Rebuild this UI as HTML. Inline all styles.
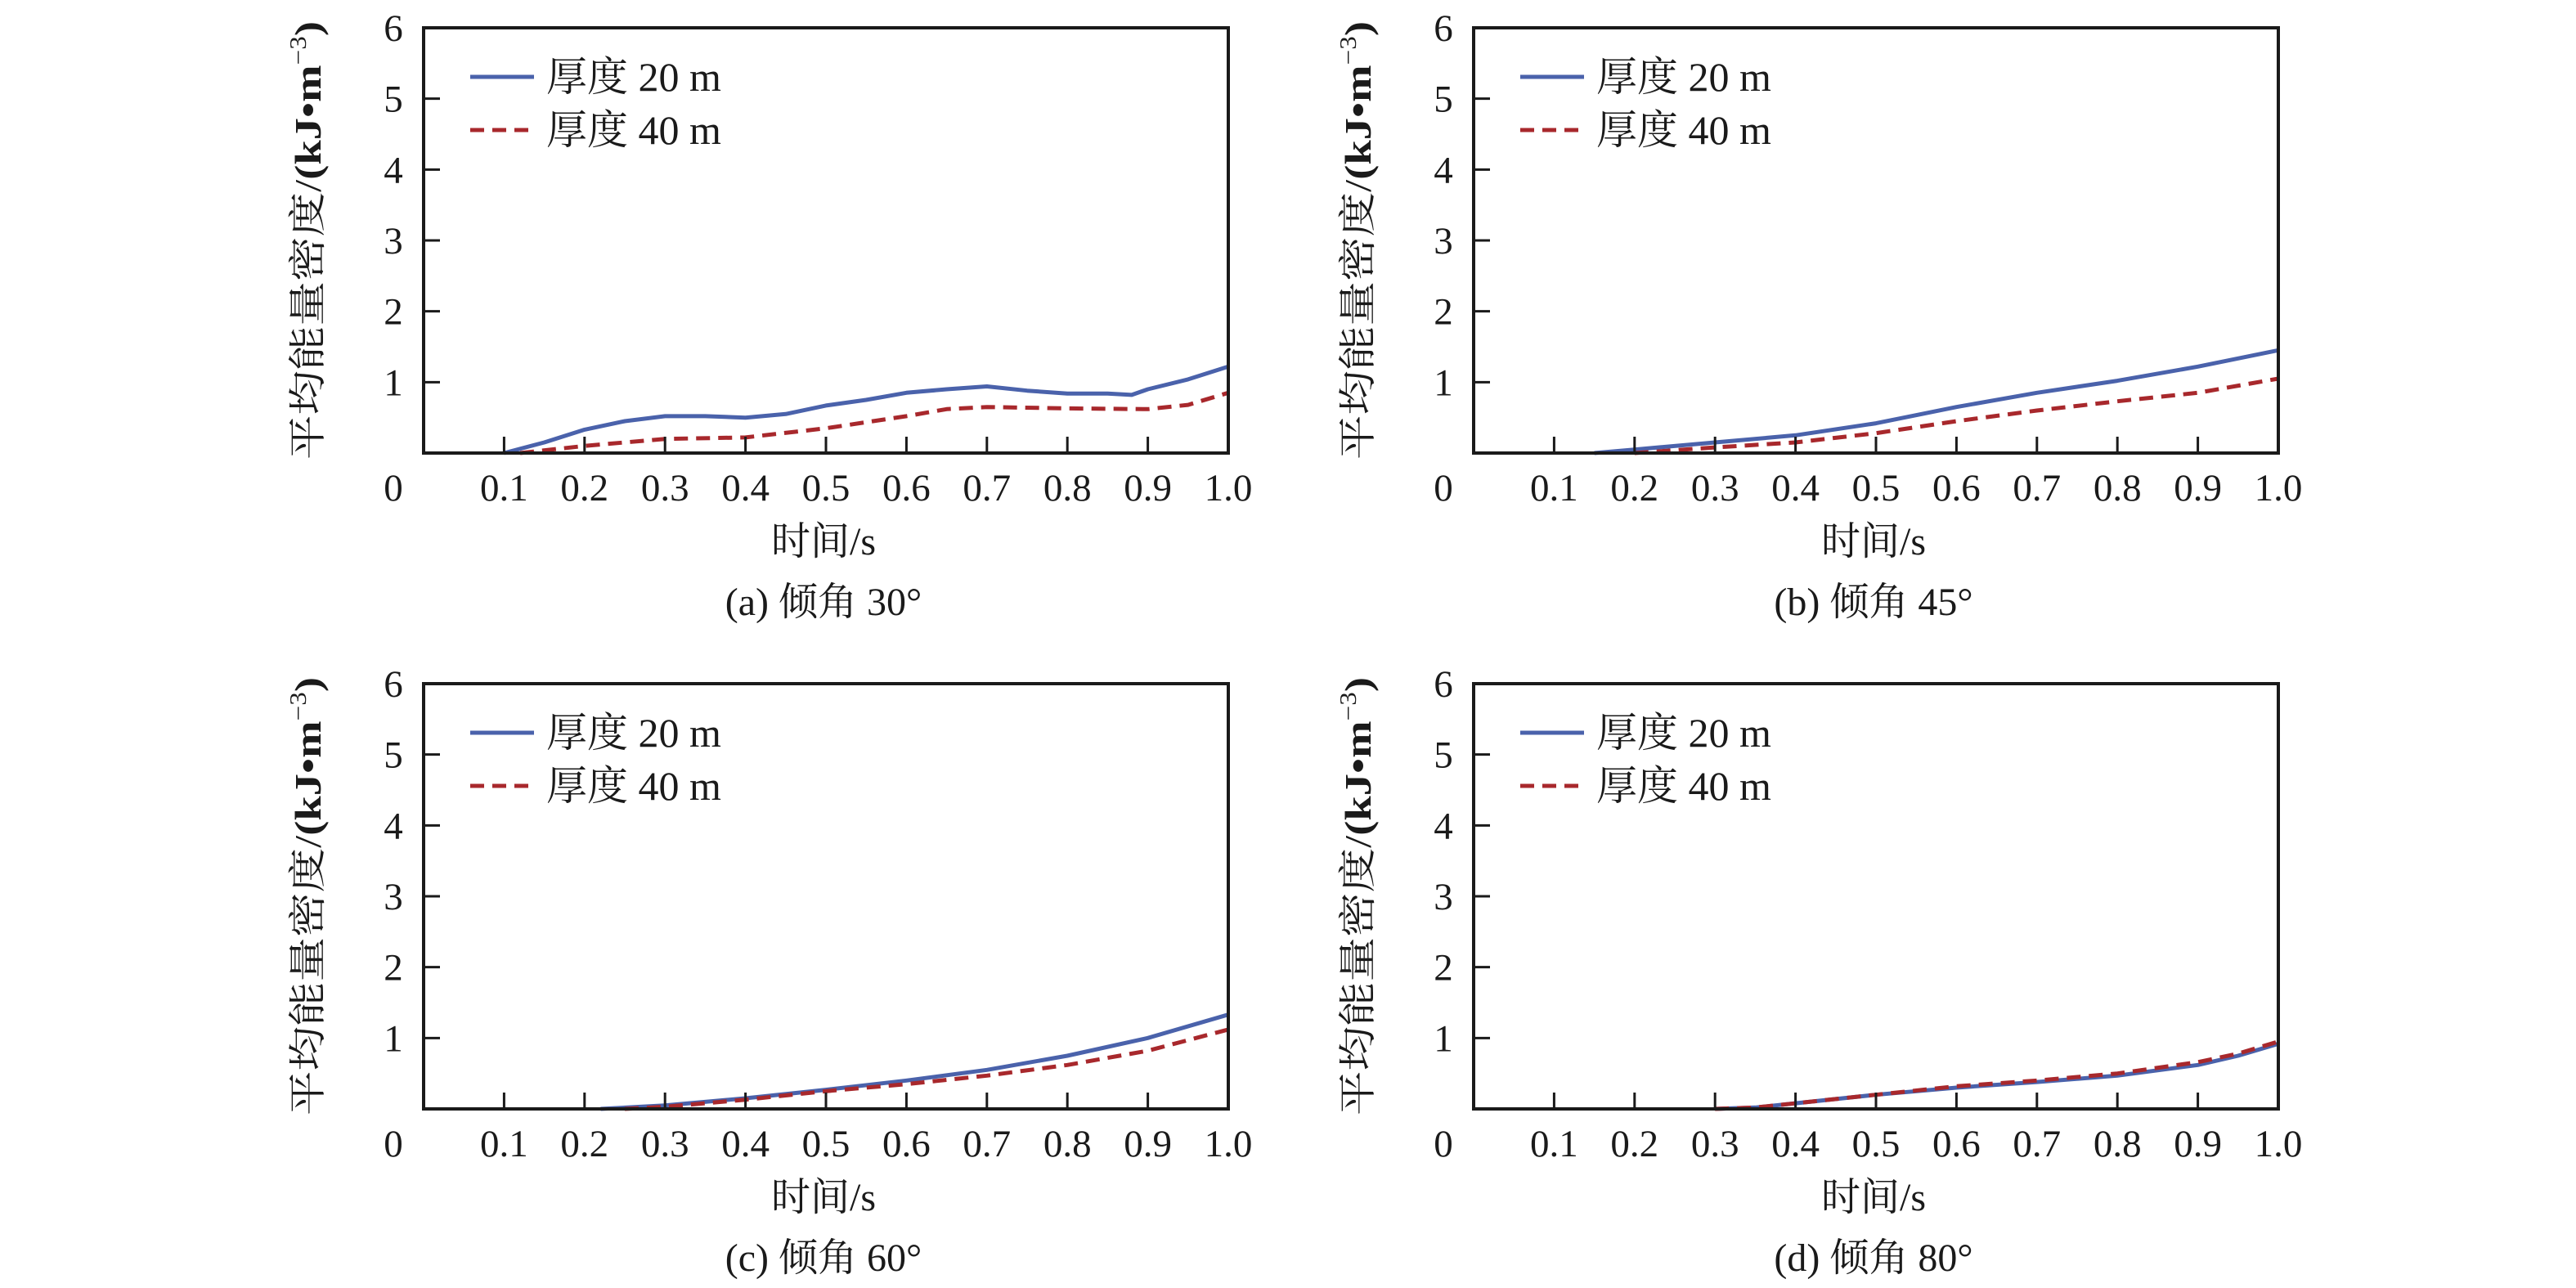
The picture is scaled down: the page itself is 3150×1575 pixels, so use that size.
<!DOCTYPE html>
<html><head><meta charset="utf-8"><style>
html,body{margin:0;padding:0;background:#fff}
svg{display:block}
text{font-family:"Liberation Serif","Noto Serif CJK SC","Noto Sans CJK SC",serif;fill:#1a1a1a}
</style></head><body>
<svg id="fig" width="3150" height="1575" viewBox="0 0 3150 1575" xmlns="http://www.w3.org/2000/svg"></svg>
<script>
const xTicks=[0.1,0.2,0.3,0.4,0.5,0.6,0.7,0.8,0.9];
const xTickLabels=["0.1","0.2","0.3","0.4","0.5","0.6","0.7","0.8","0.9","1.0"];
const yTicks=[1,2,3,4,5];
const yTickLabels=["1","2","3","4","5","6"];
const captions=["(a) 倾角 30°","(b) 倾角 45°","(c) 倾角 60°","(d) 倾角 80°"];
const seriesNames=["厚度 20 m","厚度 40 m"];
const aX20=[0.1,0.15,0.2,0.25,0.3,0.35,0.4,0.45,0.5,0.55,0.6,0.65,0.7,0.75,0.8,0.85,0.88,0.9,0.95,1.0];
const aY20=[0,0.15,0.33,0.45,0.52,0.52,0.5,0.55,0.67,0.75,0.85,0.9,0.94,0.88,0.84,0.84,0.82,0.9,1.04,1.22];
const aX40=[0.12,0.2,0.3,0.4,0.5,0.6,0.65,0.7,0.8,0.9,0.95,1.0];
const aY40=[0,0.1,0.2,0.22,0.35,0.52,0.62,0.65,0.63,0.62,0.68,0.85];
const bX20=[0.15,0.2,0.3,0.4,0.5,0.6,0.7,0.8,0.9,1.0];
const bY20=[0,0.05,0.15,0.25,0.42,0.65,0.85,1.02,1.22,1.45];
const bX40=[0.2,0.3,0.4,0.5,0.6,0.7,0.8,0.9,1.0];
const bY40=[0,0.08,0.15,0.28,0.45,0.6,0.73,0.85,1.05];
const cX20=[0.22,0.3,0.4,0.5,0.6,0.7,0.8,0.9,1.0];
const cY20=[0,0.05,0.15,0.27,0.4,0.55,0.75,1.0,1.33];
const cX40=[0.25,0.3,0.4,0.5,0.6,0.7,0.8,0.9,1.0];
const cY40=[0,0.03,0.13,0.25,0.35,0.47,0.62,0.82,1.12];
const dX20=[0.3,0.35,0.4,0.5,0.6,0.7,0.8,0.9,0.95,1.0];
const dY20=[0,0.02,0.08,0.2,0.3,0.38,0.47,0.62,0.75,0.92];
const dX40=[0.3,0.35,0.4,0.5,0.6,0.7,0.8,0.9,0.95,1.0];
const dY40=[0,0.02,0.08,0.2,0.32,0.4,0.5,0.66,0.78,0.95];

const panelData=[[aX20,aY20,aX40,aY40],[bX20,bY20,bX40,bY40],[cX20,cY20,cX40,cY40],[dX20,dY20,dX40,dY40]];
const NS="http://www.w3.org/2000/svg";
const svg=document.getElementById('fig');
function el(tag,attrs,parent){const e=document.createElementNS(NS,tag);for(const k in attrs)e.setAttribute(k,attrs[k]);(parent||svg).appendChild(e);return e;}
const origins=[[518,34],[1802,34],[518,836],[1802,836]];
const W=984,H=520;
origins.forEach((o,i)=>{
  const g=el('g',{});
  
  
  const L=o[0],T=o[1];
  const sx=v=>L+v*W, sy=v=>T+H-(v/6)*H;
  const d=panelData[i];
  [[d[0],d[1],'#4a62ab',null,'line-20m'],[d[2],d[3],'#a8282c','17 10','line-40m']].forEach(s=>{
    const pts=s[0].map((x,k)=>sx(x).toFixed(1)+','+sy(s[1][k]).toFixed(1)).join(' ');
    const p=el('polyline',{points:pts,fill:'none',stroke:s[2],'stroke-width':5,'stroke-linejoin':'round'},g);
    if(s[3])p.setAttribute('stroke-dasharray',s[3]);
    
    
  });
  const fr=el('rect',{x:L,y:T,width:W,height:H,fill:'none',stroke:'#1a1a1a','stroke-width':4},g);
  
  
  xTicks.forEach(t=>{el('line',{x1:sx(t),x2:sx(t),y1:T+H,y2:T+H-20,stroke:'#1a1a1a','stroke-width':3},g);});
  yTicks.forEach(t=>{el('line',{x1:L,x2:L+20,y1:sy(t),y2:sy(t),stroke:'#1a1a1a','stroke-width':3},g);});
  xTickLabels.forEach((lab,k)=>{
    const t=el('text',{x:sx((k+1)/10),y:T+H+58,'font-size':47,'text-anchor':'middle'},g);t.textContent=lab;
    
    
  });
  const z=el('text',{x:L-37,y:T+H+58,'font-size':47,'text-anchor':'middle'},g);z.textContent='0';
  
  
  yTickLabels.forEach((lab,k)=>{
    const t=el('text',{x:L-37,y:sy(k+1)+16,'font-size':47,'text-anchor':'middle'},g);t.textContent=lab;
    
    
  });
  const xt=el('text',{x:L+W/2-3,y:T+H+124,'font-size':48,'text-anchor':'middle'},g);xt.textContent='时间/s';
  
  
  const cap=el('text',{x:L+W/2-3,y:T+H+198,'font-size':48,'text-anchor':'middle'},g);cap.textContent=captions[i];
  
  
  const yt=el('text',{transform:`translate(${L-126},${T+260}) rotate(-90)`,'font-size':46,'text-anchor':'middle',textLength:536,lengthAdjust:'spacingAndGlyphs'},g);
  yt.innerHTML='平均能量密度/<tspan font-weight="bold">(kJ•m</tspan><tspan font-size="28" dy="-18">−3</tspan><tspan font-weight="bold" dy="18">)</tspan>';
  
  
  [['#4a62ab',null],['#a8282c','17 10']].forEach((c,k)=>{
    const ly=T+60+k*65;
    const ln=el('line',{x1:L+57,x2:L+135,y1:ly,y2:ly,stroke:c[0],'stroke-width':5},g);
    if(c[1])ln.setAttribute('stroke-dasharray',c[1]);
    
    
    const lt=el('text',{x:L+150,y:ly+17,'font-size':50},g);lt.textContent=seriesNames[k];
    
    
  });
});
</script>
</body></html>
